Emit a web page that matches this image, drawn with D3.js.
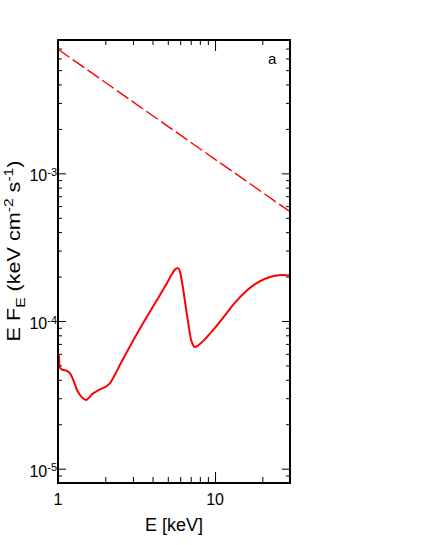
<!DOCTYPE html>
<html>
<head>
<meta charset="utf-8">
<script src="https://cdn.jsdelivr.net/npm/d3@7"></script>
<style>
  body { margin: 0; background: #fff; }
  svg { display: block; }
  text { font-family: "Liberation Sans", Arial, Helvetica, sans-serif; fill: #000; }
</style>
</head>
<body>
<svg id="chart" width="421" height="545"></svg>
<script>
// ---- data ----
const dashedE = [1, 3, 10, 30];
const dashedFlux = [6.93e-3, 3.05e-3, 1.245e-3, 5.5e-4];

const solidE = [1.012, 1.027, 1.060, 1.141, 1.210, 1.264, 1.321, 1.381, 1.443, 1.507,
  1.575, 1.646, 1.746, 1.851, 2.021, 2.144, 2.306, 2.482, 3.003, 3.853, 4.461, 4.943,
  5.319, 5.559, 5.766, 5.938, 6.071, 6.251, 6.437, 6.628, 6.826, 7.029, 7.238, 7.454,
  7.789, 8.138, 8.630, 9.276, 9.99, 11.07, 12.09, 13.40, 15.51, 17.96, 20.80, 24.08, 26.69, 30.0];
const solidFlux = [5.98e-5, 4.84e-5, 4.69e-5, 4.59e-5, 4.31e-5, 3.88e-5, 3.41e-5, 3.155e-5, 3.0e-5, 2.92e-5,
  3.025e-5, 3.19e-5, 3.32e-5, 3.44e-5, 3.60e-5, 3.80e-5, 4.34e-5, 5.05e-5, 7.36e-5, 1.160e-4, 1.501e-4, 1.809e-4,
  2.082e-4, 2.233e-4, 2.286e-4, 2.215e-4, 1.996e-4, 1.673e-4, 1.351e-4, 1.098e-4, 8.97e-5, 7.50e-5, 6.88e-5, 6.67e-5,
  6.83e-5, 7.09e-5, 7.54e-5, 8.22e-5, 8.98e-5, 1.029e-4, 1.162e-4, 1.331e-4, 1.567e-4, 1.776e-4, 1.934e-4, 2.027e-4, 2.049e-4, 2.036e-4];

const xMajorTicks = [1, 10];
const xMinorTicks = [2, 3, 4, 5, 6, 7, 8, 9, 20, 30];
const xTickLabels = ["1", "10"];
const yMajorTicks = [1e-5, 1e-4, 1e-3];
const yMinorTicks = [8e-6, 9e-6, 2e-5, 3e-5, 4e-5, 5e-5, 6e-5, 7e-5, 8e-5, 9e-5,
  2e-4, 3e-4, 4e-4, 5e-4, 6e-4, 7e-4, 8e-4, 9e-4, 2e-3, 3e-3, 4e-3, 5e-3, 6e-3, 7e-3];
const yTickExponents = ["-5", "-4", "-3"];
const xDomain = [1, 30];
const yDomain = [8e-6, 8e-3];

// ---- layout ----
const L = 58, R = 290, T = 40, B = 483;
const svg = d3.select("#chart");
const x = d3.scaleLog().domain(xDomain).range([L, R]);
const y = d3.scaleLog().domain(yDomain).range([B, T]);

svg.append("defs").append("clipPath").attr("id", "clip")
  .append("rect").attr("x", L).attr("y", T).attr("width", R - L).attr("height", B - T);

// ---- ticks (inward on all four sides) ----
function tickGroup(axis, transform) {
  const g = svg.append("g").attr("transform", transform).call(axis);
  g.select(".domain").remove();
  g.selectAll(".tick line").attr("stroke", "#000").attr("stroke-width", 1);
  g.selectAll(".tick text").remove();
  return g;
}
tickGroup(d3.axisBottom(x).tickValues(xMajorTicks).tickSize(-11).tickFormat(""), `translate(0,${B})`);
tickGroup(d3.axisBottom(x).tickValues(xMinorTicks).tickSize(-6).tickFormat(""), `translate(0,${B})`);
tickGroup(d3.axisTop(x).tickValues(xMajorTicks).tickSize(-11).tickFormat(""), `translate(0,${T})`);
tickGroup(d3.axisTop(x).tickValues(xMinorTicks).tickSize(-5).tickFormat(""), `translate(0,${T})`);
tickGroup(d3.axisLeft(y).tickValues(yMajorTicks).tickSize(-8).tickFormat(""), `translate(${L},0)`);
tickGroup(d3.axisLeft(y).tickValues(yMinorTicks).tickSize(-4).tickFormat(""), `translate(${L},0)`);
tickGroup(d3.axisRight(y).tickValues(yMajorTicks).tickSize(-8).tickFormat(""), `translate(${R},0)`);
tickGroup(d3.axisRight(y).tickValues(yMinorTicks).tickSize(-4).tickFormat(""), `translate(${R},0)`);

// ---- curves ----
const straight = d3.line().x(d => x(d[0])).y(d => y(d[1])).curve(d3.curveLinear);
const smooth = d3.line().x(d => x(d[0])).y(d => y(d[1])).curve(d3.curveMonotoneX);
const plot = svg.append("g").attr("clip-path", "url(#clip)");
plot.append("path")
  .attr("d", straight(dashedE.map((e, i) => [e, dashedFlux[i]])))
  .attr("fill", "none").attr("stroke", "#ff0000").attr("stroke-width", 1.4)
  .attr("stroke-dasharray", "14,4");
plot.append("path")
  .attr("d", smooth(solidE.map((e, i) => [e, solidFlux[i]])))
  .attr("fill", "none").attr("stroke", "#ff0000").attr("stroke-width", 2)
  .attr("stroke-linejoin", "round");

// ---- frame ----
svg.append("rect").attr("x", L).attr("y", T).attr("width", R - L).attr("height", B - T)
  .attr("fill", "none").attr("stroke", "#000").attr("stroke-width", 2);

// ---- tick labels ----
svg.selectAll(".xlab").data(xMajorTicks).enter().append("text")
  .attr("x", d => x(d)).attr("y", 505).attr("text-anchor", "middle")
  .attr("font-size", 16).text((d, i) => xTickLabels[i]);

yMajorTicks.forEach((v, i) => {
  const t = svg.append("text").attr("x", 57).attr("y", y(v) + 8)
    .attr("text-anchor", "end").attr("font-size", 16);
  t.append("tspan").text("10");
  t.append("tspan").attr("dy", -5.5).attr("font-size", 11).text(yTickExponents[i]);
});

// ---- axis titles ----
svg.append("text").attr("x", (L + R) / 2).attr("y", 531).attr("text-anchor", "middle")
  .attr("font-size", 18).text("E [keV]");

const yt = svg.append("text").attr("transform", "translate(20,251) rotate(-90) scale(1.2,1)")
  .attr("text-anchor", "middle").attr("font-size", 18);
yt.append("tspan").text("E F");
yt.append("tspan").attr("dy", 5).attr("font-size", 13).text("E");
yt.append("tspan").attr("dy", -5).text(" (keV cm");
yt.append("tspan").attr("dy", -7).attr("font-size", 13).text("-2");
yt.append("tspan").attr("dy", 7).text(" s");
yt.append("tspan").attr("dy", -7).attr("font-size", 13).text("-1");
yt.append("tspan").attr("dy", 7).text(")");

// ---- panel label ----
svg.append("text").attr("x", 268).attr("y", 64).attr("font-size", 15).text("a");
</script>
</body>
</html>
